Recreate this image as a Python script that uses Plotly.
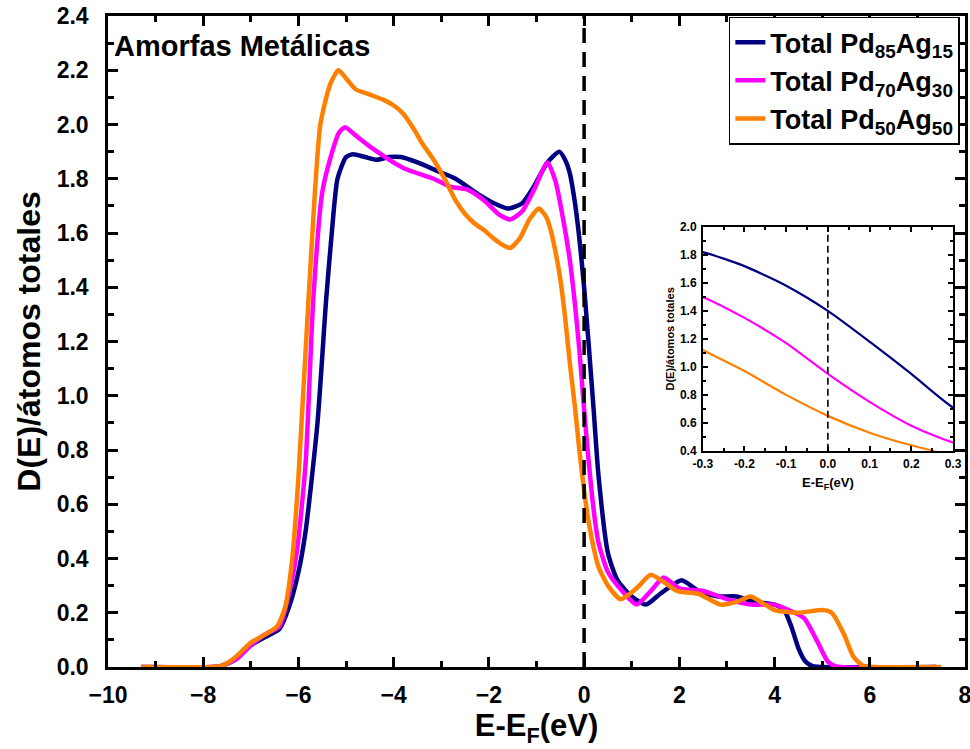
import plotly.graph_objects as go

# ---------------- data ----------------
names = ["Total Pd<sub>85</sub>Ag<sub>15</sub>",
         "Total Pd<sub>70</sub>Ag<sub>30</sub>",
         "Total Pd<sub>50</sub>Ag<sub>50</sub>"]
colors = ["#000080", "#FF00FF", "#FF8000"]

x_pd85 = [-9.3, -7.8, -7.6, -7.3, -7.0, -6.7, -6.4, -6.2, -6.0, -5.85, -5.6, -5.42, -5.3, -5.18, -5.0,
          -4.85, -4.6, -4.35, -4.1, -3.85, -3.5, -3.1, -2.7, -2.2, -1.9, -1.6, -1.3, -1.06, -0.77, -0.52, -0.4,
          -0.3, -0.2, -0.1, 0.0, 0.1, 0.2, 0.3, 0.5, 0.7, 1.0, 1.3, 1.6, 2.05, 2.4, 2.8, 3.2, 3.6,
          4.0, 4.2, 4.35, 4.5, 4.65, 4.8, 5.0, 7.4]
y_pd85 = [0, 0, 0.005, 0.03, 0.08, 0.11, 0.14, 0.22, 0.35, 0.5, 0.9, 1.35, 1.6, 1.8, 1.88,
          1.89, 1.88, 1.87, 1.88, 1.88, 1.86, 1.83, 1.80, 1.74, 1.71, 1.69, 1.71, 1.77, 1.86, 1.90, 1.87,
          1.82, 1.72, 1.58, 1.40, 1.18, 0.95, 0.71, 0.42, 0.32, 0.26, 0.23, 0.27, 0.32, 0.28, 0.26, 0.26, 0.24,
          0.23, 0.21, 0.15, 0.07, 0.02, 0.003, 0, 0]

x_pd70 = [-9.3, -7.8, -7.6, -7.3, -7.0, -6.7, -6.4, -6.2, -6.03, -5.85, -5.69, -5.5, -5.29, -5.15, -5.02,
          -4.8, -4.43, -3.8, -3.16, -2.8, -2.45, -2.1, -1.8, -1.55, -1.3, -1.05, -0.77, -0.6, -0.45,
          -0.3, -0.2, -0.1, 0.0, 0.1, 0.2, 0.3, 0.5, 0.8, 1.1, 1.4, 1.67, 2.0, 2.5, 3.0, 3.5, 4.0,
          4.3, 4.62, 4.91, 5.12, 5.3, 7.4]
y_pd70 = [0, 0, 0.005, 0.03, 0.08, 0.12, 0.15, 0.27, 0.43, 0.75, 1.35, 1.75, 1.90, 1.97, 1.99,
          1.96, 1.91, 1.84, 1.80, 1.77, 1.76, 1.72, 1.67, 1.65, 1.68, 1.76, 1.86, 1.79, 1.66,
          1.50, 1.35, 1.17, 0.95, 0.75, 0.58, 0.46, 0.35, 0.28, 0.23, 0.28, 0.33, 0.29, 0.28, 0.25, 0.23, 0.23,
          0.21, 0.18, 0.09, 0.02, 0.002, 0]

x_pd50 = [-9.3, -7.8, -7.6, -7.3, -7.0, -6.7, -6.45, -6.28, -6.13, -6.0, -5.79, -5.54, -5.33, -5.16, -5.0,
          -4.8, -4.5, -4.2, -4.0, -3.8, -3.6, -3.4, -3.16, -2.9, -2.7, -2.5, -2.3, -2.1, -1.9, -1.7,
          -1.55, -1.35, -1.15, -0.95, -0.8, -0.7, -0.6, -0.5, -0.4,
          -0.3, -0.2, -0.1, 0.0, 0.1, 0.2, 0.3, 0.5, 0.77, 1.1, 1.4, 1.7, 1.96, 2.4,
          2.87, 3.2, 3.5, 3.8, 4.0, 4.5, 5.0, 5.2, 5.46, 5.65, 5.85, 6.1, 7.5]
y_pd50 = [0, 0, 0.005, 0.04, 0.09, 0.12, 0.15, 0.22, 0.4, 0.7, 1.35, 2.0, 2.15, 2.20, 2.17,
          2.13, 2.11, 2.09, 2.07, 2.04, 1.99, 1.93, 1.87, 1.79, 1.72, 1.67, 1.635, 1.61, 1.58, 1.555,
          1.545, 1.58, 1.65, 1.69, 1.66, 1.61, 1.53, 1.43, 1.29,
          1.12, 0.97, 0.80, 0.65, 0.53, 0.44, 0.37, 0.30, 0.25, 0.29, 0.34, 0.31, 0.28, 0.27,
          0.23, 0.24, 0.26, 0.23, 0.21, 0.20, 0.21, 0.20, 0.12, 0.04, 0.005, 0, 0]

series_x = [x_pd85, x_pd70, x_pd50]
series_y = [y_pd85, y_pd70, y_pd50]

x_ticks = [-10, -8, -6, -4, -2, 0, 2, 4, 6, 8]
y_ticks = [0.0, 0.2, 0.4, 0.6, 0.8, 1.0, 1.2, 1.4, 1.6, 1.8, 2.0, 2.2, 2.4]
inset_x_ticks = [-0.3, -0.2, -0.1, 0.0, 0.1, 0.2, 0.3]
inset_y_ticks = [0.4, 0.6, 0.8, 1.0, 1.2, 1.4, 1.6, 1.8, 2.0]

FONT = "Liberation Sans, Arial, sans-serif"

fig = go.Figure()

for nm, c, xs, ys in zip(names, colors, series_x, series_y):
    fig.add_trace(go.Scatter(x=xs, y=ys, mode="lines", name=nm,
                             line=dict(color=c, width=4.5, shape="spline", smoothing=0.6),
                             xaxis="x", yaxis="y"))
for nm, c, xs, ys in zip(names, colors, series_x, series_y):
    fig.add_trace(go.Scatter(x=xs, y=ys, mode="lines", name=nm, showlegend=False,
                             line=dict(color=c, width=2.2, shape="spline", smoothing=0.6),
                             xaxis="x2", yaxis="y2"))

# Fermi level dashed lines
fig.add_shape(type="line", xref="x", yref="y", x0=0, x1=0, y0=0, y1=2.4,
              line=dict(color="black", width=3.5, dash="15px,9px"))
fig.add_shape(type="line", xref="x2", yref="y2", x0=0, x1=0, y0=0.4, y1=2.0,
              line=dict(color="black", width=1.6, dash="7px,4px"))

axis_common = dict(showgrid=False, zeroline=False, showline=True, linecolor="black",
                   mirror="allticks", ticks="inside", tickcolor="black", automargin=False)

fig.update_layout(
    width=970, height=749,
    margin=dict(l=108, r=5, t=16, b=82),
    paper_bgcolor="white", plot_bgcolor="white",
    font=dict(family=FONT, color="black", weight="bold"),
    xaxis=dict(**axis_common, range=[-10, 8], tickvals=x_ticks, linewidth=2.5,
               tickwidth=2.5, ticklen=10, ticklabelstandoff=6, ticklabeloverflow="allow",
               minor=dict(ticks="inside", dtick=1, ticklen=6, tickwidth=2.5, tickcolor="black"),
               tickfont=dict(size=23, family=FONT, weight="bold"),
               title=dict(text="E-E<sub>F</sub>(eV)", font=dict(size=31, family=FONT, weight="bold"),
                          standoff=4),
               domain=[0, 1]),
    yaxis=dict(**axis_common, range=[0, 2.4], tickvals=y_ticks, ticktext=[f"{v:.1f}" for v in y_ticks],
               linewidth=2.5, tickwidth=2.5, ticklen=10, ticklabelstandoff=12,
               minor=dict(ticks="inside", dtick=0.1, ticklen=6, tickwidth=2.5, tickcolor="black"),
               tickfont=dict(size=23, family=FONT, weight="bold"),
               title=dict(text="D(E)/átomos totales", font=dict(size=32, family=FONT, weight="bold"),
                          standoff=7),
               domain=[0, 1]),
    xaxis2=dict(**axis_common, range=[-0.3, 0.3], tickvals=inset_x_ticks,
                ticktext=[f"{v:.1f}" for v in inset_x_ticks],
                linewidth=1.5, tickwidth=1.5, ticklen=5, ticklabelstandoff=1,
                minor=dict(ticks="inside", dtick=0.05, ticklen=3, tickwidth=1.5, tickcolor="black"),
                tickfont=dict(size=12, family=FONT, weight="bold"),
                title=dict(text="E-E<sub>F</sub>(eV)", font=dict(size=13, family=FONT, weight="bold"),
                           standoff=8),
                domain=[0.694, 0.986], anchor="y2"),
    yaxis2=dict(**axis_common, range=[0.4, 2.0], tickvals=inset_y_ticks,
                ticktext=[f"{v:.1f}" for v in inset_y_ticks],
                linewidth=1.5, tickwidth=1.5, ticklen=5, ticklabelstandoff=2,
                minor=dict(ticks="inside", dtick=0.1, ticklen=3, tickwidth=1.5, tickcolor="black"),
                tickfont=dict(size=12, family=FONT, weight="bold"),
                title=dict(text="D(E)/átomos totales", font=dict(size=11, family=FONT, weight="bold"),
                           standoff=3),
                domain=[0.332, 0.676], anchor="x2"),
    legend=dict(x=0.994, xanchor="right", y=0.999, yanchor="top",
                bgcolor="white", bordercolor="black", borderwidth=1.5,
                font=dict(size=27, family=FONT, weight="bold"),
                tracegroupgap=0),
    showlegend=True,
)

fig.add_annotation(x=0.005, y=0.982, xref="paper", yref="paper", xanchor="left", yanchor="top",
                   text="Amorfas Metálicas", showarrow=False,
                   font=dict(size=29, family=FONT, weight="bold", color="black"))

fig.write_html("out.html")
